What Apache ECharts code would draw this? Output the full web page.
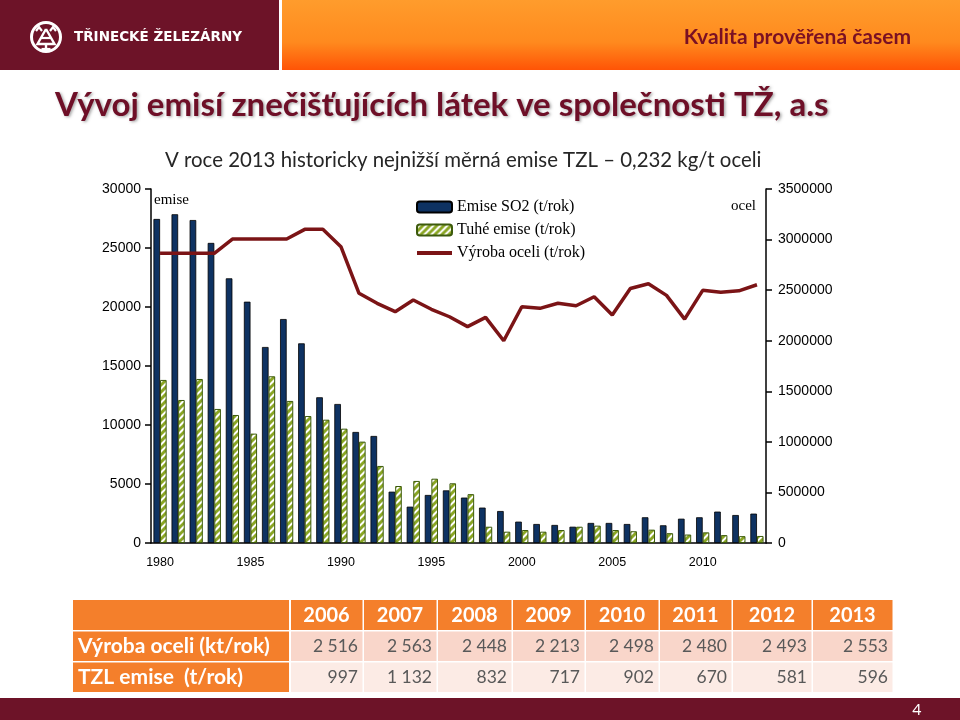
<!DOCTYPE html>
<html>
<head>
<meta charset="utf-8">
<script src="https://cdn.jsdelivr.net/npm/echarts@6/dist/echarts.min.js"></script>
<style>
  html, body { margin: 0; padding: 0; background: #fff; }
  #chart { width: 960px; height: 720px; }
</style>
</head>
<body>
<div id="chart"></div>
<script>
// ---------- DATA ----------
const years = ['1980','1981','1982','1983','1984','1985','1986','1987','1988','1989',
  '1990','1991','1992','1993','1994','1995','1996','1997','1998','1999',
  '2000','2001','2002','2003','2004','2005','2006','2007','2008','2009',
  '2010','2011','2012','2013'];
const so2Emissions = [27460, 27860, 27370, 25430, 22430, 20450, 16610, 18980, 16920, 12350,
  11780, 9410, 9070, 4350, 3080, 4070, 4460, 3850, 3000, 2710,
  1810, 1610, 1530, 1380, 1700, 1700, 1610, 2180, 1500, 2060,
  2180, 2660, 2370, 2490];
const solidEmissions = [13820, 12120, 13900, 11360, 10850, 9270, 14130, 12040, 10760, 10450,
  9690, 8590, 6530, 4830, 5260, 5450, 5060, 4140, 1380, 960,
  1100, 960, 1100, 1380, 1470, 1100, 997, 1132, 832, 717,
  902, 670, 581, 596];
const steelOutput = [2864000, 2864000, 2864000, 2864000, 3005000, 3005000, 3005000, 3005000, 3101000, 3101000,
  2930000, 2469000, 2370000, 2287000, 2402000, 2311000, 2237000, 2139000, 2231000, 2000000,
  2336000, 2320000, 2370000, 2346000, 2435000, 2254000, 2516000, 2563000, 2448000, 2213000,
  2498000, 2480000, 2493000, 2553000];
const leftTicks = [0, 30000, 5000];      // min, max, interval
const rightTicks = [0, 3500000, 500000]; // min, max, interval

const tableYears = ['2006','2007','2008','2009','2010','2011','2012','2013'];
const tableRowLabels = ['Výroba oceli (kt/rok)', 'TZL emise  (t/rok)'];
const tableSteelKt = ['2 516','2 563','2 448','2 213','2 498','2 480','2 493','2 553'];
const tableTzlT = ['997','1 132','832','717','902','670','581','596'];

// ---------- LAYOUT / STYLE ----------
const MAROON = '#6d1328';
const ORANGE = '#f47f2b';
const colEdges = [290, 363, 437, 512, 585, 659, 732, 812, 893];
const rowEdges = [600, 630, 661, 692];
const tableLeft = 73;

function hatch() {
  const c = document.createElement('canvas');
  c.width = 7; c.height = 7;
  const g = c.getContext('2d');
  g.fillStyle = '#ffffff';
  g.fillRect(0, 0, 7, 7);
  g.strokeStyle = '#8aa624';
  g.lineWidth = 3;
  g.beginPath();
  for (let k = -7; k <= 14; k += 7) {
    g.moveTo(k - 1, 8); g.lineTo(k + 8, -1);
  }
  g.stroke();
  return c;
}

const graphics = [];
// header
graphics.push({ type: 'rect', shape: { x: 0, y: 0, width: 279, height: 70 }, style: { fill: MAROON }, silent: true });
graphics.push({ type: 'rect', shape: { x: 282, y: 0, width: 678, height: 70 }, silent: true,
  style: { fill: new echarts.graphic.LinearGradient(0, 0, 0, 1, [
    { offset: 0, color: '#ff9c2c' }, { offset: 0.6, color: '#ff8a1e' }, { offset: 1, color: '#ff5406' }]) } });
// logo
graphics.push({ type: 'circle', shape: { cx: 46, cy: 37, r: 14.5 }, style: { fill: 'none', stroke: '#fff', lineWidth: 3 }, silent: true });
graphics.push({ type: 'polyline', shape: { points: [[46, 29], [37.5, 44], [54.5, 44], [46, 29]] }, style: { fill: 'none', stroke: '#fff', lineWidth: 2.4 }, silent: true });
graphics.push({ type: 'polyline', shape: { points: [[41, 38], [51, 38]] }, style: { stroke: '#fff', lineWidth: 2.2 }, silent: true });
graphics.push({ type: 'polyline', shape: { points: [[46, 44], [46, 49]] }, style: { stroke: '#fff', lineWidth: 2.4 }, silent: true });
graphics.push({ type: 'polyline', shape: { points: [[41.5, 49], [50.5, 49]] }, style: { stroke: '#fff', lineWidth: 2.2 }, silent: true });
graphics.push({ type: 'polyline', shape: { points: [[36, 31], [39, 27], [42, 31]] }, style: { fill: 'none', stroke: '#fff', lineWidth: 2.2 }, silent: true });
graphics.push({ type: 'polyline', shape: { points: [[50, 31], [53, 27], [56, 31]] }, style: { fill: 'none', stroke: '#fff', lineWidth: 2.2 }, silent: true });
graphics.push({ type: 'text', x: 74, y: 37, silent: true,
  style: { text: 'TŘINECKÉ ŽELEZÁRNY', font: 'bold 13.5px "DejaVu Sans"', fill: '#fff', align: 'left', verticalAlign: 'middle' } });
graphics.push({ type: 'text', x: 911, y: 37, silent: true,
  style: { text: 'Kvalita prověřená časem', font: 'bold 21px Lato', fill: '#7a1024', align: 'right', verticalAlign: 'middle' } });
// title & subtitle
graphics.push({ type: 'text', x: 55, y: 105, silent: true,
  style: { text: 'Vývoj emisí znečišťujících látek ve společnosti TŽ, a.s', font: 'bold 33px Lato', fill: '#6e0f27',
    align: 'left', verticalAlign: 'middle', textShadowColor: 'rgba(0,0,0,0.35)', textShadowBlur: 3, textShadowOffsetX: 1.5, textShadowOffsetY: 1.5 } });
graphics.push({ type: 'text', x: 165, y: 160, silent: true,
  style: { text: 'V roce 2013 historicky nejnižší měrná emise TZL – 0,232 kg/t oceli', font: '20.4px Lato', fill: '#262626', align: 'left', verticalAlign: 'middle' } });
// axis captions
graphics.push({ type: 'text', x: 154, y: 200, silent: true,
  style: { text: 'emise', font: '15px "Liberation Serif"', fill: '#000', align: 'left', verticalAlign: 'middle' } });
graphics.push({ type: 'text', x: 756, y: 206, silent: true,
  style: { text: 'ocel', font: '15px "Liberation Serif"', fill: '#000', align: 'right', verticalAlign: 'middle' } });

// table
const rowFills = [ORANGE, '#f9d6ca', '#fcebe5'];
for (let r = 0; r < 3; r++) {
  const y0 = rowEdges[r], y1 = rowEdges[r + 1];
  graphics.push({ type: 'rect', silent: true, shape: { x: tableLeft, y: y0 + (r ? 1.5 : 0), width: colEdges[0] - tableLeft - 1, height: y1 - y0 - (r ? 1.5 : 0) }, style: { fill: ORANGE } });
  for (let c = 0; c < tableYears.length; c++) {
    graphics.push({ type: 'rect', silent: true, shape: { x: colEdges[c] + 1, y: y0 + (r ? 1.5 : 0), width: colEdges[c + 1] - colEdges[c] - 1.5, height: y1 - y0 - (r ? 1.5 : 0) }, style: { fill: rowFills[r] } });
    const cx = colEdges[c], cw = colEdges[c + 1] - colEdges[c];
    const ym = (y0 + y1) / 2 + 1;
    if (r === 0) {
      graphics.push({ type: 'text', silent: true, x: cx + cw / 2, y: ym, style: { text: tableYears[c], font: 'bold 20px Lato', fill: '#fff', align: 'center', verticalAlign: 'middle' } });
    } else {
      const vals = r === 1 ? tableSteelKt : tableTzlT;
      graphics.push({ type: 'text', silent: true, x: cx + cw - 5, y: ym, style: { text: vals[c], font: '17.5px Lato', fill: '#595959', align: 'right', verticalAlign: 'middle' } });
    }
  }
  if (r > 0) {
    graphics.push({ type: 'text', silent: true, x: 78, y: (y0 + y1) / 2 + 1, style: { text: tableRowLabels[r - 1], font: 'bold 21px Lato', fill: '#fff', align: 'left', verticalAlign: 'middle' } });
  }
}
// footer
graphics.push({ type: 'rect', shape: { x: 0, y: 698, width: 960, height: 22 }, style: { fill: MAROON }, silent: true });
graphics.push({ type: 'text', x: 917, y: 710, silent: true,
  style: { text: '4', font: '16px Lato', fill: '#fff', align: 'center', verticalAlign: 'middle' } });

const axisFont = { fontFamily: '"Liberation Sans", Arial', fontSize: 14, color: '#000', formatter: v => String(v) };

const option = {
  animation: false,
  backgroundColor: '#fff',
  graphic: graphics,
  grid: { left: 151, right: 194, top: 189, bottom: 177, containLabel: false },
  legend: {
    orient: 'vertical', left: 416, top: 199, padding: 0, itemWidth: 35, itemHeight: 11, itemGap: 7,
    textStyle: { fontFamily: '"Liberation Serif"', fontSize: 16, color: '#000' },
    data: ['Emise SO2 (t/rok)', 'Tuhé emise (t/rok)',
      { name: 'Výroba oceli (t/rok)', icon: 'path://M0,0 L35,0 L35,4 L0,4 Z' }]
  },
  xAxis: {
    type: 'category', data: years, boundaryGap: true,
    axisLine: { lineStyle: { color: '#000', width: 1.5 } },
    axisTick: { interval: 0, length: 5, lineStyle: { color: '#000', width: 1.5 } },
    axisLabel: { interval: 4, margin: 13, fontFamily: '"Liberation Sans", Arial', fontSize: 12.5, color: '#000' }
  },
  yAxis: [
    { type: 'value', min: leftTicks[0], max: leftTicks[1], interval: leftTicks[2],
      axisLine: { show: true, lineStyle: { color: '#000', width: 1.5 } },
      axisTick: { show: true, length: 6, lineStyle: { color: '#000', width: 1.5 } },
      splitLine: { show: false },
      axisLabel: Object.assign({ margin: 10 }, axisFont) },
    { type: 'value', min: rightTicks[0], max: rightTicks[1], interval: rightTicks[2], position: 'right',
      axisLine: { show: true, lineStyle: { color: '#000', width: 1.5 } },
      axisTick: { show: true, length: 6, lineStyle: { color: '#000', width: 1.5 } },
      splitLine: { show: false },
      axisLabel: Object.assign({ margin: 12 }, axisFont) }
  ],
  series: [
    { name: 'Emise SO2 (t/rok)', type: 'bar', yAxisIndex: 0, data: so2Emissions,
      barWidth: 6.6, barGap: '0%',
      itemStyle: { color: '#0e3262', borderColor: '#000', borderWidth: 0.8 } },
    { name: 'Tuhé emise (t/rok)', type: 'bar', yAxisIndex: 0, data: solidEmissions,
      barWidth: 6.6,
      itemStyle: { color: { image: hatch(), repeat: 'repeat' }, borderColor: '#3c5a0c', borderWidth: 1 } },
    { name: 'Výroba oceli (t/rok)', type: 'line', yAxisIndex: 1, data: steelOutput,
      symbol: 'none', z: 5,
      lineStyle: { color: '#7b1416', width: 3.5 }, itemStyle: { color: '#7b1416' } }
  ]
};

const chart = echarts.init(document.getElementById('chart'), null, { renderer: 'canvas' });
chart.setOption(option);
</script>
</body>
</html>
